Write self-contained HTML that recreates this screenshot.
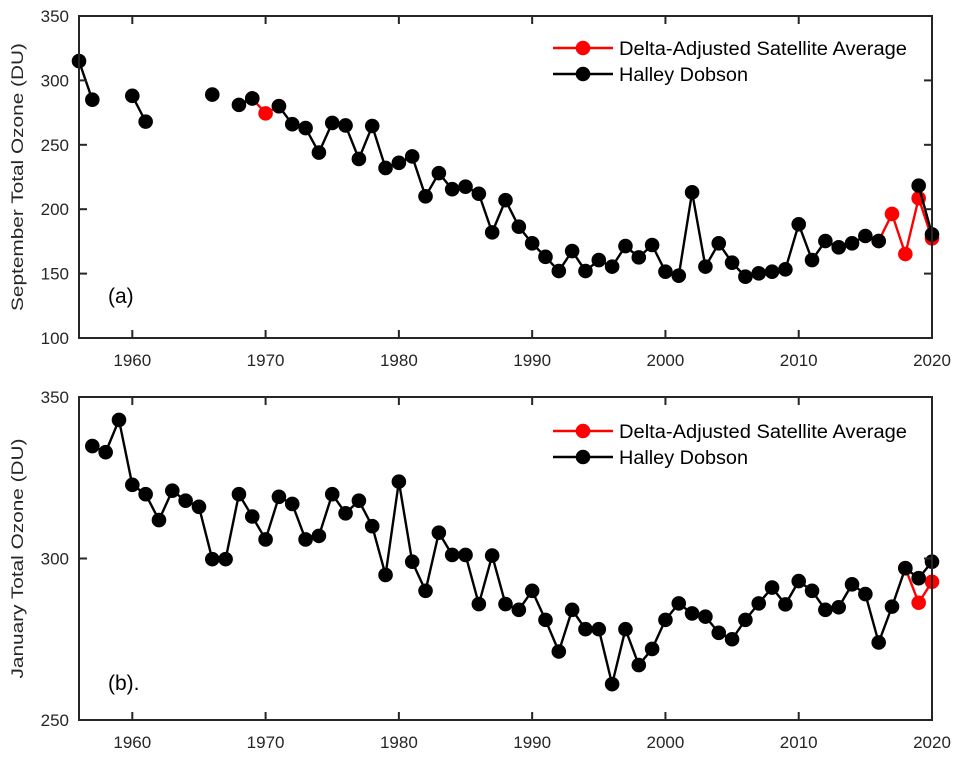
<!DOCTYPE html>
<html><head><meta charset="utf-8"><style>
body{margin:0;background:#fff}
svg{display:block;font-family:"Liberation Sans",sans-serif}
</style></head><body>
<svg id="fig" width="961" height="757" viewBox="0 0 961 757" xmlns="http://www.w3.org/2000/svg"></svg>
<script>
const years = [];
for (let y = 1956; y <= 2020; y++) years.push(y);
// Panel (a) September values, by year 1956..2020 (null = missing)
const sepHalley = [315,285,null,null,288,268,null,null,null,null,289,null,281,286,null,280,266,263,244,267,265,239,264.6,232,236,241,210,228,215.5,217.5,212,182,207,186.4,173.5,163,152,167.5,152,160.5,155.4,171.4,162.6,172.2,151.5,148.4,213.1,155.4,173.5,158.5,147.6,150.2,151.5,153.3,188.3,160.5,175.3,170.4,173.5,179.2,175.3,null,null,218.3,180.4];
const sepSat = [null,null,null,null,null,null,null,null,null,null,null,null,null,286,274.4,280,null,null,null,null,null,null,null,null,null,null,null,null,null,null,null,null,null,null,null,null,null,null,null,null,null,null,null,null,null,null,null,null,null,null,null,null,null,null,null,null,null,null,null,null,175.3,196.3,165.2,208.5,177.4];
// Panel (b) January values
const janHalley = [null,334.8,332.9,342.9,322.8,319.9,311.9,321,317.9,316,299.8,299.8,319.9,313,305.9,319.1,316.9,305.9,307,319.9,314,317.9,310,294.9,323.8,299,290,308,301.1,301.1,285.9,300.9,285.9,284.1,290,281,271.2,284.1,278.1,278.1,261.1,278.1,267,272,281,286.1,283,282,277,275,281,286.1,291,285.8,293,290,284.1,284.9,292,289,274,285.1,297,293.9,299];
const janSat = years.map(y => null);
janSat[2018-1956] = 297; janSat[2019-1956] = 286.3; janSat[2020-1956] = 292.8;
const xTicks = [1960,1970,1980,1990,2000,2010,2020];
const yTicksA = [100,150,200,250,300,350];
const yTicksB = [250,300,350];

const NS = "http://www.w3.org/2000/svg";
const svg = document.getElementById('fig');
function mk(tag, attrs, parent) {
  const e = document.createElementNS(NS, tag);
  for (const k in attrs) e.setAttribute(k, attrs[k]);
  (parent || svg).appendChild(e);
  return e;
}
const L = 79, R = 932, XMIN = 1956, XMAX = 2020;
const xs = v => L + (v - XMIN) / (XMAX - XMIN) * (R - L);

function panel(cfg) {
  const g = mk('g', {});
  
  
  const ys = v => cfg.top + (cfg.ymax - v) / (cfg.ymax - cfg.ymin) * (cfg.bot - cfg.top);
  function drawSeries(vals, color, name) {
    const sg = mk('g', {}, g);
    
    
    let seg = [];
    const segs = [];
    vals.forEach((v, i) => {
      if (v == null) { if (seg.length) segs.push(seg); seg = []; }
      else seg.push([xs(years[i]), ys(v)]);
    });
    if (seg.length) segs.push(seg);
    segs.forEach(s => {
      if (s.length > 1) {
        const p = mk('polyline', {points: s.map(q => q.join(',')).join(' '), fill: 'none', stroke: color, 'stroke-width': 2.4, 'stroke-linejoin': 'round'}, sg);
        
        
      }
    });
    vals.forEach((v, i) => {
      if (v == null) return;
      const c = mk('circle', {cx: xs(years[i]), cy: ys(v), r: 7.3, fill: color}, sg);
      
      
    });
  }
  drawSeries(cfg.sat, '#ff0000', 'satellite-series');
  drawSeries(cfg.hal, '#000000', 'halley-series');
  const box = mk('rect', {x: L, y: cfg.top, width: R - L, height: cfg.bot - cfg.top, fill: 'none', stroke: '#262626', 'stroke-width': 2}, g);
  
  
  xTicks.forEach(t => {
    const x = xs(t);
    mk('line', {x1: x, x2: x, y1: cfg.bot, y2: cfg.bot - 8, stroke: '#262626', 'stroke-width': 2}, g);
    mk('line', {x1: x, x2: x, y1: cfg.top, y2: cfg.top + 8, stroke: '#262626', 'stroke-width': 2}, g);
    const tx = mk('text', {x: x, y: cfg.bot + 28, 'text-anchor': 'middle', 'font-size': 17, fill: '#262626'}, g);
    tx.textContent = t;
    
    
  });
  cfg.yt.forEach(t => {
    const y = ys(t);
    mk('line', {x1: L, x2: L + 8, y1: y, y2: y, stroke: '#262626', 'stroke-width': 2}, g);
    mk('line', {x1: R, x2: R - 8, y1: y, y2: y, stroke: '#262626', 'stroke-width': 2}, g);
    const tx = mk('text', {x: L - 10, y: y + 6, 'text-anchor': 'end', 'font-size': 17, fill: '#262626'}, g);
    tx.textContent = t;
    
    
  });
  const yt = mk('text', {x: 0, y: 0, transform: `translate(23,${(cfg.top + cfg.bot) / 2}) rotate(-90)`, 'text-anchor': 'middle', 'font-size': 17, fill: '#262626', textLength: cfg.titleLen, lengthAdjust: 'spacingAndGlyphs'}, g);
  yt.textContent = cfg.ytitle;
  
  
  const pl = mk('text', {x: 108, y: cfg.labelY, 'font-size': 21, fill: '#000'}, g);
  pl.textContent = cfg.label;
  
  
  const lg = mk('g', {}, g);
  
  
  [['Delta-Adjusted Satellite Average', '#ff0000', 0, 288], ['Halley Dobson', '#000000', 26, 129]].forEach(([t, c, dy, w]) => {
    const y = cfg.legY + dy;
    const e = mk('g', {}, lg);
    
    
    mk('line', {x1: 553, x2: 613, y1: y, y2: y, stroke: c, 'stroke-width': 2.4}, e);
    mk('circle', {cx: 583, cy: y, r: 7.3, fill: c}, e);
    const tx = mk('text', {x: 619, y: y + 7, 'font-size': 19, fill: '#000', textLength: w, lengthAdjust: 'spacingAndGlyphs'}, e);
    tx.textContent = t;
  });
}
panel({name: 'panel-a-september', top: 16, bot: 338, ymin: 100, ymax: 350, hal: sepHalley, sat: sepSat, yt: yTicksA, ytitle: 'September Total Ozone (DU)', titleLen: 268, label: '(a)', labelY: 303, legY: 48});
panel({name: 'panel-b-january', top: 397, bot: 720, ymin: 250, ymax: 350, hal: janHalley, sat: janSat, yt: yTicksB, ytitle: 'January Total Ozone (DU)', titleLen: 240, label: '(b).', labelY: 690, legY: 431});
</script>
</body></html>
